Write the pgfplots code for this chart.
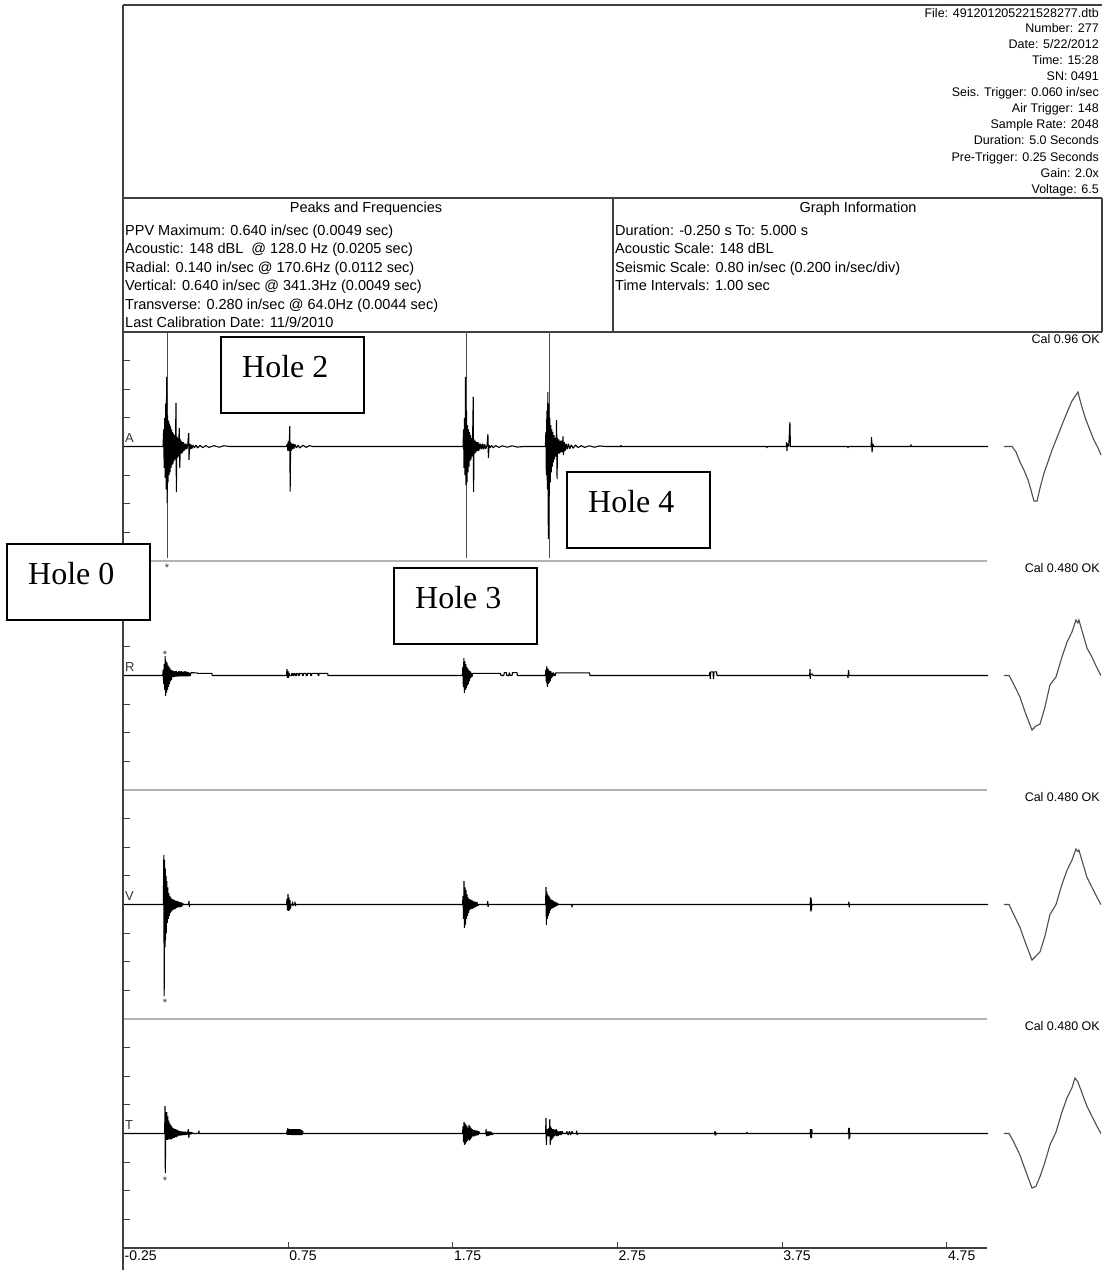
\documentclass[border=0pt]{standalone}
\usepackage{fontspec}
\setmainfont{Liberation Sans}
\newfontfamily\holefont{Liberation Serif}
\usepackage{pgfplots}
\pgfplotsset{compat=1.18}

\pgfplotsset{
  chan/.style={
    scale only axis, width=864.5pt, height=229pt,
    xmin=-0.25, xmax=5.0, ymin=-0.8, ymax=0.8,
    axis line style={draw=none},
    xtick=\empty,
    ytick={-0.6,-0.4,-0.2,0.2,0.4,0.6}, yticklabels={},
    ytick pos=left, tick align=inside,
    major tick length=6pt,
    tick style={black!75, line width=0.9pt},
    clip=false,
  },
  trace/.style={black, line width=1.1pt, line join=bevel},
  calw/.style={black!70, line width=1.1pt},
  trig/.style={black!70, line width=0.8pt},
}
\newcommand\hdr{\fontsize{12.5}{14}\selectfont}
\newcommand\pk{\fontsize{14.5}{16}\selectfont}
\newcommand\hole{\holefont\fontsize{32}{36}\selectfont}

\begin{document}
\begin{tikzpicture}
\useasboundingbox (0pt,0pt) rectangle (1111pt,-1280pt);

% ---------- A (acoustic)
\begin{axis}[chan, at={(123.5pt,-561pt)}, anchor=south west]
\addplot[trig] coordinates {(0.017,-0.78) (0.017,0.79)};
\addplot[trig] coordinates {(1.830,-0.78) (1.830,0.79)};
\addplot[trig] coordinates {(2.334,-0.78) (2.334,0.79)};
\addplot[trace] coordinates {
(-0.25,0) (-0.010,0) (-0.006,0.12) (-0.003,-0.15) (0.000,0.20) (0.003,-0.22)
(0.006,0.30) (0.009,-0.30) (0.012,0.486) (0.015,-0.395) (0.018,0.22) (0.021,-0.25)
(0.024,0.18) (0.027,-0.20) (0.030,0.16) (0.033,-0.18) (0.036,0.14) (0.039,-0.15)
(0.042,0.12) (0.045,-0.13) (0.048,0.10) (0.051,-0.12) (0.054,0.09) (0.057,-0.10)
(0.060,0.08) (0.063,-0.09) (0.066,0.07) (0.069,0.304) (0.071,-0.318) (0.074,0.07)
(0.077,-0.08) (0.080,0.06) (0.083,-0.07) (0.086,0.05) (0.089,0.129) (0.092,-0.150)
(0.095,0.05) (0.098,-0.05) (0.101,0.04) (0.104,-0.05) (0.107,0.03) (0.110,-0.04)
(0.114,0.03) (0.118,-0.03) (0.122,0.02) (0.126,-0.02) (0.130,0.02) (0.134,-0.02)
(0.140,0.01) (0.146,0.094) (0.148,-0.094) (0.151,0.02) (0.155,-0.02) (0.160,0.015)
(0.165,-0.015) (0.172,0.01) (0.180,-0.01) (0.190,0.01) (0.200,-0.01) (0.215,0.008)
(0.230,-0.008) (0.250,0.006) (0.270,-0.006) (0.300,0.006) (0.330,-0.005) (0.360,0.005)
(0.397,0)
(0.740,0) (0.745,0.02) (0.748,-0.03) (0.751,0.04) (0.754,-0.03) (0.757,0.03)
(0.760,0.143) (0.762,-0.316) (0.765,0.03) (0.768,-0.03) (0.772,0.02) (0.776,-0.02)
(0.780,0.02) (0.785,-0.015) (0.790,0.015) (0.800,-0.01) (0.810,0.01) (0.820,-0.01)
(0.840,0.008) (0.860,-0.006) (0.880,0.006) (0.900,0)
(1.812,0) (1.815,0.12) (1.818,-0.15) (1.821,0.20) (1.824,-0.20) (1.827,0.486)
(1.830,-0.269) (1.833,0.25) (1.836,-0.25) (1.839,0.15) (1.842,-0.18) (1.845,0.12)
(1.848,-0.14) (1.851,0.10) (1.854,-0.10) (1.857,0.08) (1.860,-0.09) (1.863,0.06)
(1.866,-0.07) (1.870,0.05) (1.874,0.346) (1.876,-0.318) (1.879,0.05) (1.883,-0.05)
(1.887,0.04) (1.891,-0.04) (1.895,0.03) (1.899,-0.03) (1.903,0.03) (1.907,-0.03)
(1.911,0.02) (1.915,-0.02) (1.920,0.02) (1.926,-0.02) (1.932,0.02) (1.938,-0.02)
(1.944,0.015) (1.950,-0.015) (1.958,0.01) (1.963,0.087) (1.966,-0.080) (1.970,0.01)
(1.976,-0.01) (1.985,0.008) (1.995,-0.008) (2.010,0.006) (2.030,-0.006) (2.050,0.005)
(2.080,-0.005) (2.110,0.005) (2.140,-0.004) (2.182,0)
(2.312,0) (2.315,0.10) (2.318,-0.20) (2.321,0.25) (2.324,-0.30) (2.327,0.381)
(2.330,-0.646) (2.333,0.30) (2.336,-0.35) (2.339,0.20) (2.342,-0.25) (2.345,0.15)
(2.348,-0.18) (2.351,0.12) (2.354,-0.14) (2.357,0.10) (2.360,-0.11) (2.364,0.08)
(2.368,-0.09) (2.372,0.06) (2.376,-0.07) (2.380,0.185) (2.383,-0.227) (2.386,0.06)
(2.390,-0.05) (2.394,0.05) (2.398,-0.05) (2.402,0.04) (2.406,-0.04) (2.410,0.04)
(2.414,-0.04) (2.419,0.07) (2.422,-0.06) (2.427,0.03) (2.432,-0.03) (2.438,0.02)
(2.445,-0.02) (2.452,0.02) (2.460,-0.015) (2.470,0.012) (2.480,-0.012) (2.495,0.01)
(2.510,-0.008) (2.530,0.006) (2.550,-0.006) (2.580,0.005) (2.610,-0.005) (2.640,0.004)
(2.680,0) (2.770,0) (2.771,0.01) (2.773,0)
(3.655,0) (3.657,-0.01) (3.659,0)
(3.775,0) (3.777,0.03) (3.779,-0.03) (3.782,0.02) (3.790,0) (3.797,0.171) (3.800,0)
(4.148,0) (4.150,-0.01) (4.152,0)
(4.290,0) (4.293,0.066) (4.296,-0.04) (4.300,0.02) (4.305,0)
(4.530,0) (4.532,0.015) (4.534,0) (5.0,0)};
\addplot[calw] coordinates {
(5.097,0) (5.146,0) (5.170,-0.038) (5.194,-0.108) (5.218,-0.164) (5.243,-0.234)
(5.261,-0.304) (5.279,-0.381) (5.298,-0.381) (5.316,-0.290) (5.340,-0.185)
(5.364,-0.108) (5.389,-0.024) (5.413,0.045) (5.437,0.115) (5.461,0.185)
(5.486,0.255) (5.510,0.318) (5.546,0.381) (5.570,0.276) (5.595,0.185)
(5.619,0.115) (5.643,0.045) (5.668,-0.010) (5.686,-0.059)};
\end{axis}

% ---------- R (radial)
\begin{axis}[chan, at={(123.5pt,-790pt)}, anchor=south west]
\addplot[trace] coordinates {
(-0.25,0) (-0.012,0) (-0.009,0.04) (-0.006,-0.06) (-0.003,0.08) (0.000,-0.10)
(0.003,0.136) (0.006,-0.143) (0.009,0.10) (0.012,-0.12) (0.015,0.09) (0.018,-0.10)
(0.021,0.07) (0.024,-0.08) (0.027,0.06) (0.030,-0.06) (0.033,0.05) (0.036,-0.04)
(0.039,0.04) (0.042,-0.03) (0.046,0.035) (0.050,-0.01) (0.054,0.03) (0.058,-0.01)
(0.062,0.03) (0.066,-0.008) (0.070,0.03) (0.074,-0.008) (0.078,0.025) (0.082,-0.008)
(0.086,0.03) (0.090,-0.006) (0.094,0.028) (0.098,-0.006) (0.102,0.03) (0.106,-0.006)
(0.110,0.025) (0.114,-0.005) (0.118,0.028) (0.122,-0.005) (0.126,0.03) (0.130,-0.005)
(0.134,0.025) (0.138,-0.005) (0.142,0.025) (0.146,-0.005) (0.150,0.02) (0.155,-0.004)
(0.160,0.02) (0.196,0.018) (0.200,0.015) (0.287,0.015) (0.289,0)
(0.740,0) (0.743,0.045) (0.746,-0.017) (0.749,0.03) (0.752,-0.017) (0.755,0.02)
(0.758,0) (0.770,0) (0.772,0.015) (0.776,0.015) (0.778,0) (0.784,0) (0.786,0.015)
(0.792,0.015) (0.794,0) (0.800,0) (0.802,0.015) (0.810,0.015) (0.812,0) (0.818,0)
(0.820,0.015) (0.835,0.015) (0.837,0) (0.842,0) (0.844,0.015) (0.858,0.015)
(0.860,0) (0.866,0) (0.868,0.015) (0.885,0.015) (0.887,0) (0.892,0) (0.894,0.015)
(0.930,0.015) (0.932,0) (0.936,0) (0.938,0.015) (0.990,0.015) (0.992,0)
(1.808,0) (1.811,0.06) (1.814,-0.08) (1.817,0.122) (1.820,-0.122) (1.823,0.10)
(1.826,-0.10) (1.829,0.08) (1.832,-0.09) (1.835,0.06) (1.838,-0.07) (1.841,0.05)
(1.844,-0.06) (1.847,0.04) (1.850,-0.04) (1.854,0.03) (1.858,-0.02) (1.862,0.02)
(1.866,-0.01) (1.870,0.015) (2.040,0.015) (2.042,0) (2.060,0) (2.062,0.02)
(2.075,0.02) (2.077,0) (2.090,0) (2.092,0.02) (2.100,0) (2.110,0) (2.112,0.02)
(2.140,0.02) (2.142,0)
(2.312,0) (2.315,0.04) (2.318,-0.05) (2.321,0.066) (2.324,-0.08) (2.327,0.05)
(2.330,-0.06) (2.333,0.04) (2.336,-0.05) (2.339,0.03) (2.342,-0.04) (2.345,0.03)
(2.348,-0.02) (2.351,0.02) (2.355,-0.01) (2.360,0.02) (2.367,0) (2.372,0)
(2.374,0.018) (2.580,0.018) (2.583,0)
(3.309,0) (3.311,0.025) (3.313,-0.025) (3.316,0.025) (3.330,0.025) (3.333,-0.025)
(3.336,0.025) (3.352,0.025) (3.354,0)
(3.917,0) (3.919,0.045) (3.921,-0.024) (3.924,0.01) (3.935,0.01) (3.937,0)
(4.147,0) (4.150,-0.017) (4.153,0.038) (4.156,0) (5.0,0)};
\addplot[calw] coordinates {
(5.097,0) (5.128,0) (5.152,-0.052) (5.194,-0.150) (5.225,-0.255) (5.267,-0.381)
(5.291,-0.353) (5.316,-0.339) (5.346,-0.220) (5.376,-0.066) (5.413,-0.010)
(5.449,0.129) (5.480,0.234) (5.510,0.304) (5.534,0.388) (5.546,0.367) (5.552,0.388)
(5.601,0.192) (5.631,0.129) (5.662,0.052) (5.686,0)};
\end{axis}

% ---------- V (vertical)
\begin{axis}[chan, at={(123.5pt,-1019pt)}, anchor=south west]
\addplot[trace] coordinates {
(-0.25,0) (-0.008,0) (-0.005,0.346) (-0.003,-0.64) (0.000,0.311) (0.002,-0.297)
(0.004,0.25) (0.006,-0.25) (0.008,0.20) (0.010,-0.20) (0.013,0.164) (0.016,-0.129)
(0.019,0.12) (0.022,-0.10) (0.025,0.08) (0.028,-0.08) (0.031,0.06) (0.034,-0.06)
(0.037,0.05) (0.040,-0.05) (0.044,0.04) (0.048,-0.04) (0.052,0.035) (0.056,-0.035)
(0.060,0.03) (0.064,-0.03) (0.068,0.025) (0.072,-0.025) (0.076,0.025) (0.080,-0.02)
(0.084,0.02) (0.088,-0.02) (0.092,0.018) (0.096,-0.018) (0.100,0.015) (0.104,-0.015)
(0.108,0.01) (0.112,0) (0.145,0) (0.148,0.024) (0.150,-0.017) (0.152,0)
(0.740,0) (0.743,0.04) (0.746,-0.04) (0.749,0.073) (0.752,-0.045) (0.755,0.05)
(0.758,-0.04) (0.761,0.03) (0.764,-0.03) (0.767,0) (0.775,0) (0.777,0.02)
(0.779,-0.01) (0.781,0) (0.790,0) (0.792,0.02) (0.794,-0.01) (0.796,0)
(1.809,0) (1.812,0.06) (1.815,-0.10) (1.818,0.164) (1.821,-0.164) (1.824,0.12)
(1.827,-0.14) (1.830,0.10) (1.833,-0.10) (1.836,0.07) (1.839,-0.08) (1.842,0.05)
(1.845,-0.06) (1.849,0.04) (1.853,-0.04) (1.857,0.035) (1.861,-0.03) (1.865,0.03)
(1.869,-0.03) (1.873,0.025) (1.877,-0.025) (1.881,0.02) (1.885,-0.02) (1.889,0.02)
(1.893,-0.015) (1.897,0.015) (1.902,-0.01) (1.906,0) (1.960,0) (1.962,0.024)
(1.964,-0.017) (1.966,0)
(2.313,0) (2.316,0.122) (2.318,-0.143) (2.321,0.09) (2.324,-0.10) (2.327,0.07)
(2.330,-0.08) (2.333,0.06) (2.336,-0.06) (2.339,0.05) (2.342,-0.04) (2.346,0.035)
(2.350,-0.03) (2.354,0.03) (2.358,-0.025) (2.362,0.025) (2.366,-0.02) (2.370,0.02)
(2.374,-0.015) (2.378,0.015) (2.382,-0.01) (2.386,0.01) (2.390,0) (2.472,0)
(2.474,-0.02) (2.476,0)
(3.920,0) (3.922,0.05) (3.924,-0.05) (3.926,0.045) (3.928,-0.04) (3.930,0)
(4.153,0) (4.155,0.02) (4.157,-0.02) (4.159,0) (5.0,0)};
\addplot[calw] coordinates {
(5.097,0) (5.128,0) (5.152,-0.06) (5.194,-0.16) (5.225,-0.26) (5.267,-0.388)
(5.291,-0.36) (5.316,-0.33) (5.346,-0.22) (5.376,-0.07) (5.413,0) (5.449,0.14)
(5.480,0.24) (5.510,0.31) (5.534,0.388) (5.546,0.37) (5.552,0.38) (5.601,0.19)
(5.631,0.12) (5.662,0.05) (5.686,0)};
\end{axis}

% ---------- T (transverse)
\begin{axis}[chan, at={(123.5pt,-1248pt)}, anchor=south west,
  xtick={-0.25,0.75,1.75,2.75,3.75,4.75},
  xticklabels={-0.25,0.75,1.75,2.75,3.75,4.75},
  xtick pos=bottom,
  xticklabel style={anchor=north west, inner sep=0pt, xshift=1pt, yshift=-3pt,
    font=\fontsize{14}{15}\selectfont}]
\addplot[trace] coordinates {
(-0.25,0) (0.000,0) (0.002,0.192) (0.004,-0.276) (0.007,0.150) (0.010,-0.045)
(0.013,0.15) (0.016,-0.045) (0.019,0.12) (0.022,-0.04) (0.025,0.09) (0.028,-0.04)
(0.031,0.07) (0.034,-0.04) (0.037,0.06) (0.040,-0.04) (0.043,0.05) (0.046,-0.035)
(0.049,0.04) (0.052,-0.03) (0.055,0.035) (0.058,-0.03) (0.061,0.03) (0.064,-0.025)
(0.068,0.03) (0.072,-0.025) (0.076,0.025) (0.080,-0.02) (0.084,0.02) (0.088,-0.015)
(0.092,0.018) (0.096,-0.015) (0.100,0.015) (0.104,-0.012) (0.108,0.015) (0.112,-0.01)
(0.116,0.012) (0.120,-0.01) (0.124,0.012) (0.128,-0.01) (0.132,0.01) (0.136,-0.008)
(0.140,0.01) (0.144,0.03) (0.147,-0.03) (0.150,0.01) (0.154,-0.006) (0.158,0.01)
(0.162,-0.005) (0.166,0.008) (0.170,0) (0.206,0) (0.208,0.02) (0.210,0)
(0.741,0) (0.743,0.02) (0.745,-0.01) (0.748,0.038) (0.751,-0.01) (0.754,0.03)
(0.757,-0.01) (0.760,0.03) (0.763,-0.01) (0.766,0.03) (0.770,-0.01) (0.774,0.03)
(0.778,-0.01) (0.782,0.03) (0.786,-0.01) (0.790,0.03) (0.794,-0.01) (0.798,0.03)
(0.802,-0.01) (0.806,0.03) (0.810,-0.01) (0.814,0.03) (0.818,-0.01) (0.822,0.03)
(0.826,-0.01) (0.830,0.025) (0.834,-0.01) (0.838,0.02) (0.840,0)
(1.809,0) (1.812,0.05) (1.815,-0.06) (1.818,0.08) (1.821,-0.08) (1.824,0.07)
(1.827,-0.07) (1.830,0.06) (1.833,-0.06) (1.836,0.05) (1.839,-0.05) (1.842,0.04)
(1.845,-0.04) (1.848,0.06) (1.851,-0.05) (1.854,0.05) (1.857,-0.04) (1.860,0.04)
(1.864,-0.03) (1.868,0.03) (1.872,-0.02) (1.876,0.025) (1.880,-0.02) (1.884,0.025)
(1.888,-0.015) (1.892,0.02) (1.896,-0.015) (1.900,0.02) (1.904,-0.01) (1.908,0.015)
(1.912,0) (1.950,0) (1.952,0.03) (1.954,-0.02) (1.956,0.015) (1.960,-0.015)
(1.965,0.015) (1.970,-0.015) (1.975,0.015) (1.980,-0.01) (1.985,0.01) (1.990,-0.01)
(1.994,0)
(2.313,0) (2.316,0.108) (2.318,-0.08) (2.321,0.03) (2.324,-0.02) (2.327,0.03)
(2.330,-0.02) (2.333,0.04) (2.336,-0.02) (2.339,0.10) (2.341,-0.08) (2.344,0.05)
(2.347,-0.05) (2.350,0.04) (2.353,-0.04) (2.356,0.03) (2.359,-0.03) (2.362,0.03)
(2.366,-0.02) (2.370,0.025) (2.374,-0.015) (2.378,0.03) (2.382,-0.02) (2.386,0.02)
(2.390,-0.015) (2.395,0.015) (2.400,-0.01) (2.405,0.015) (2.410,-0.01) (2.415,0.015)
(2.420,0) (2.440,0) (2.442,0.015) (2.450,-0.01) (2.458,0.015) (2.466,-0.01)
(2.474,0.015) (2.478,0) (2.500,0) (2.502,0.02) (2.505,-0.01) (2.508,0)
(3.339,0) (3.341,0.015) (3.343,-0.015) (3.345,0.015) (3.347,-0.01) (3.349,0)
(3.534,0) (3.536,0.01) (3.538,0)
(3.920,0) (3.922,0.03) (3.924,-0.03) (3.926,0.03) (3.928,-0.03) (3.930,0.03) (3.932,0)
(4.152,0) (4.154,0.04) (4.156,-0.04) (4.158,0.04) (4.160,-0.03) (4.162,0) (5.0,0)};
\addplot[calw] coordinates {
(5.097,0) (5.128,0) (5.152,-0.05) (5.194,-0.15) (5.225,-0.25) (5.267,-0.381)
(5.291,-0.37) (5.316,-0.30) (5.346,-0.20) (5.376,-0.08) (5.413,0.01) (5.449,0.15)
(5.480,0.25) (5.510,0.32) (5.528,0.388) (5.546,0.36) (5.601,0.19) (5.631,0.12)
(5.662,0.05) (5.686,0)};
\end{axis}

\begin{scope}[x=1pt, y=1pt]
% ---------- frame and separators
\draw[black!30, line width=1.8pt] (123,-561) -- (987,-561);
\draw[black!30, line width=1.8pt] (123,-790) -- (987,-790);
\draw[black!30, line width=1.8pt] (123,-1019) -- (987,-1019);
\draw[black!75, line width=1.3pt] (123,-1248) -- (987,-1248);
\draw[black!75, line width=1.3pt] (123,-5) -- (1102,-5);
\draw[black!75, line width=1.3pt] (123,-5) -- (123,-1270);
\draw[black!75, line width=1.3pt] (123,-198) -- (1102,-198);
\draw[black!75, line width=1.3pt] (123,-332) -- (1102,-332);
\draw[black!75, line width=1.3pt] (613,-198) -- (613,-332);
\draw[black!75, line width=1.3pt] (1102,-198) -- (1102,-332);

% ---------- header
\begin{scope}[every node/.style={anchor=base east, inner sep=0pt, font=\hdr}]
\node at (1099,-17.5) {File: 491201205221528277.dtb};
\node at (1099,-32.5) {Number: 277};
\node at (1099,-48.5) {Date: 5/22/2012};
\node at (1099,-64.5) {Time: 15:28};
\node at (1099,-80.5) {SN: 0491};
\node at (1099,-96.5) {Seis. Trigger: 0.060 in/sec};
\node at (1099,-112.5) {Air Trigger: 148};
\node at (1099,-128.5) {Sample Rate: 2048};
\node at (1099,-144.5) {Duration: 5.0 Seconds};
\node at (1099,-161.5) {Pre-Trigger: 0.25 Seconds};
\node at (1099,-177.5) {Gain: 2.0x};
\node at (1099,-193.5) {Voltage: 6.5};
\node at (1100,-343.5) {Cal 0.96 OK};
\node at (1100,-572.5) {Cal 0.480 OK};
\node at (1100,-801.5) {Cal 0.480 OK};
\node at (1100,-1030.5) {Cal 0.480 OK};
\end{scope}

\begin{scope}[every node/.style={anchor=base west, inner sep=0pt, font=\pk}]
\node[anchor=base] at (366,-212) {Peaks and Frequencies};
\node[anchor=base] at (858,-212) {Graph Information};
\node at (125,-235) {PPV Maximum: 0.640 in/sec (0.0049 sec)};
\node at (125,-253.5) {Acoustic: 148 dBL \ @ 128.0 Hz (0.0205 sec)};
\node at (125,-272) {Radial: 0.140 in/sec @ 170.6Hz (0.0112 sec)};
\node at (125,-290.5) {Vertical: 0.640 in/sec @ 341.3Hz (0.0049 sec)};
\node at (125,-309) {Transverse: 0.280 in/sec @ 64.0Hz (0.0044 sec)};
\node at (125,-327.5) {Last Calibration Date: 11/9/2010};
\node at (615,-235) {Duration: -0.250 s To: 5.000 s};
\node at (615,-253.5) {Acoustic Scale: 148 dBL};
\node at (615,-272) {Seismic Scale: 0.80 in/sec (0.200 in/sec/div)};
\node at (615,-290.5) {Time Intervals: 1.00 sec};
\end{scope}

% channel letters and peak markers
\begin{scope}[every node/.style={anchor=base west, inner sep=0pt, font=\fontsize{13}{14}\selectfont, text=black!80}]
\node at (125,-442) {A};
\node at (125,-671) {R};
\node at (125,-900) {V};
\node at (125,-1129) {T};
\end{scope}
\begin{scope}[every node/.style={anchor=base, inner sep=0pt, font=\fontsize{11}{12}\selectfont, text=black!80}]
\node at (167,-571) {*};
\node at (165,-658) {*};
\node at (165,-1006) {*};
\node at (165,-1184) {*};
\end{scope}

% ---------- hole labels
\draw[line width=1.6pt, fill=white] (221,-337) rectangle (364,-413);
\node[anchor=base west, inner sep=0pt, font=\hole] at (242,-377) {Hole 2};
\draw[line width=1.6pt, fill=white] (567,-472) rectangle (710,-548);
\node[anchor=base west, inner sep=0pt, font=\hole] at (588,-512) {Hole 4};
\draw[line width=1.6pt, fill=white] (7,-544) rectangle (150,-620);
\node[anchor=base west, inner sep=0pt, font=\hole] at (28,-584) {Hole 0};
\draw[line width=1.6pt, fill=white] (394,-568) rectangle (537,-644);
\node[anchor=base west, inner sep=0pt, font=\hole] at (415,-608) {Hole 3};
\end{scope}
\end{tikzpicture}
\end{document}
